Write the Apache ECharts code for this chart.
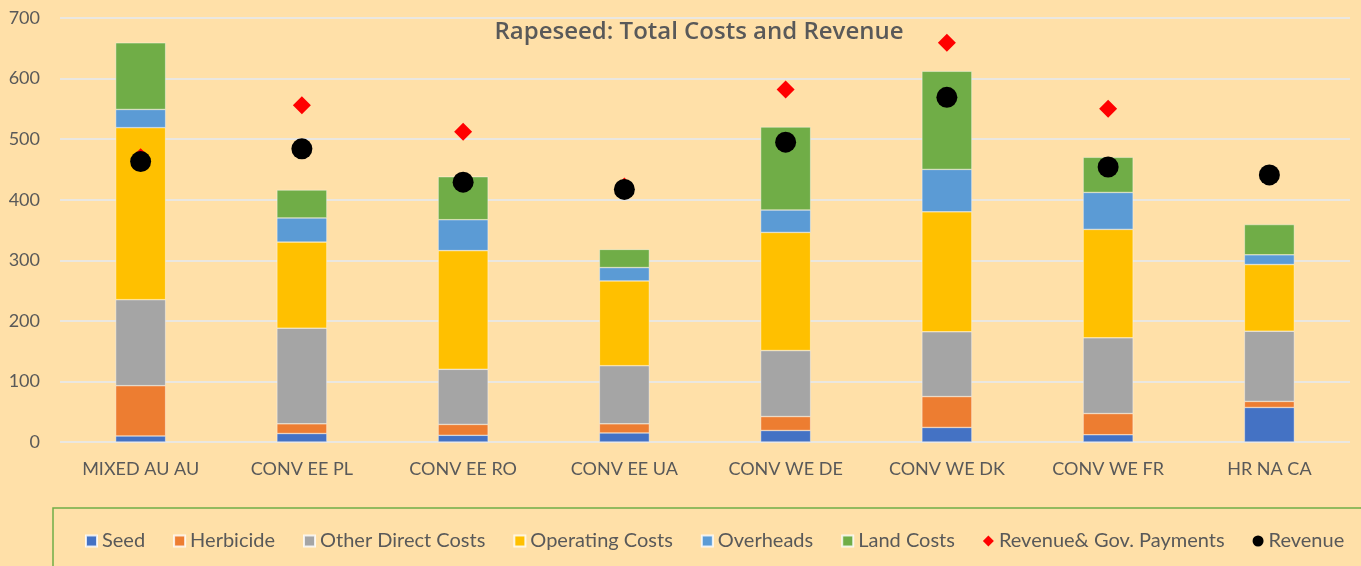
<!DOCTYPE html>
<html>
<head>
<meta charset="utf-8">
<script src="https://cdn.jsdelivr.net/npm/echarts@6/dist/echarts.min.js"></script>
<style>
  html, body { margin: 0; padding: 0; background: #FFE0A8; }
  #chart { width: 1361px; height: 566px; }
</style>
</head>
<body>
<div id="chart"></div>
<script>
let categories = ["MIXED AU AU", "CONV EE PL", "CONV EE RO", "CONV EE UA", "CONV WE DE", "CONV WE DK", "CONV WE FR", "HR NA CA"]

let seed = [10, 14, 11, 15, 19, 24, 12, 57]
let herbicide = [83, 16, 18, 15, 23, 51, 35, 10]
let otherDirect = [142, 158, 91, 96, 109, 107, 125, 116]
let operating = [284, 142, 196, 140, 195, 198, 179, 110]
let overheads = [30, 40, 51, 22, 37, 70, 61, 16]
let landCosts = [110, 46, 71, 30, 137, 162, 58, 50]
let revenueGov = [470, 556, 512, 422, 582, 659, 550, null]
let revenue = [463, 484, 429, 417, 495, 569, 454, 441]

let yTicks = [0, 100, 200, 300, 400, 500, 600, 700]

let font = "Lato"
let txt = "#595959"

function barSeries(name, data, color){
    return {
        name: name,
        type: "bar",
        stack: "cost",
        barWidth: 50,
        data: data,
        itemStyle: { color: color, borderColor: "rgba(255,255,255,0.8)", borderWidth: 0.5 }
    }
}

var myChart = echarts.init(document.getElementById("chart"))
var option = {
    backgroundColor: "#FFE0A8",
    animation: false,
    textStyle: { fontFamily: font },
    title: {
        text: "Rapeseed: Total Costs and Revenue",
        left: 694,
        textAlign: "center",
        top: 15,
        textStyle: { fontFamily: "Open Sans", fontSize: 24, fontWeight: 600, color: txt }
    },
    grid: { left: 60, right: 11, top: 18, bottom: 124, containLabel: false },
    graphic: [{
        type: "rect",
        shape: { x: 53, y: 508, width: 1400, height: 100 },
        style: { fill: "none", stroke: "#70AD47", lineWidth: 1.5 },
        z: 0
    }],
    legend: {
        left: 80,
        top: 526,
        itemGap: 28,
        itemWidth: 11,
        itemHeight: 11,
        textStyle: { fontFamily: font, fontSize: 20, color: txt },
        data: [
            { name: "Seed", icon: "rect" },
            { name: "Herbicide", icon: "rect" },
            { name: "Other Direct Costs", icon: "rect" },
            { name: "Operating Costs", icon: "rect" },
            { name: "Overheads", icon: "rect" },
            { name: "Land Costs", icon: "rect" },
            { name: "Revenue& Gov. Payments", icon: "diamond" },
            { name: "Revenue", icon: "circle" }
        ]
    },
    xAxis: {
        type: "category",
        data: categories,
        axisLine: { show: false },
        axisTick: { show: false },
        axisLabel: { fontFamily: font, fontSize: 18, color: txt, margin: 18 }
    },
    yAxis: {
        type: "value",
        min: 0,
        max: yTicks[yTicks.length - 1],
        interval: 100,
        axisLine: { show: false },
        axisTick: { show: false },
        axisLabel: { fontFamily: font, fontSize: 18, color: txt, margin: 20 },
        splitLine: { lineStyle: { color: "#EAE7E0", width: 2 } }
    },
    series: [
        barSeries("Seed", seed, "#4472C4"),
        barSeries("Herbicide", herbicide, "#ED7D31"),
        barSeries("Other Direct Costs", otherDirect, "#A5A5A5"),
        barSeries("Operating Costs", operating, "#FFC000"),
        barSeries("Overheads", overheads, "#5B9BD5"),
        barSeries("Land Costs", landCosts, "#70AD47"),
        {
            name: "Revenue& Gov. Payments",
            type: "scatter",
            symbol: "diamond",
            symbolSize: 18,
            data: revenueGov,
            itemStyle: { color: "#FF0000", opacity: 1 },
            z: 3
        },
        {
            name: "Revenue",
            type: "scatter",
            symbol: "circle",
            symbolSize: 21,
            data: revenue,
            itemStyle: { color: "#000000", opacity: 1 },
            z: 4
        }
    ]
}
myChart.setOption(option)
</script>
</body>
</html>
